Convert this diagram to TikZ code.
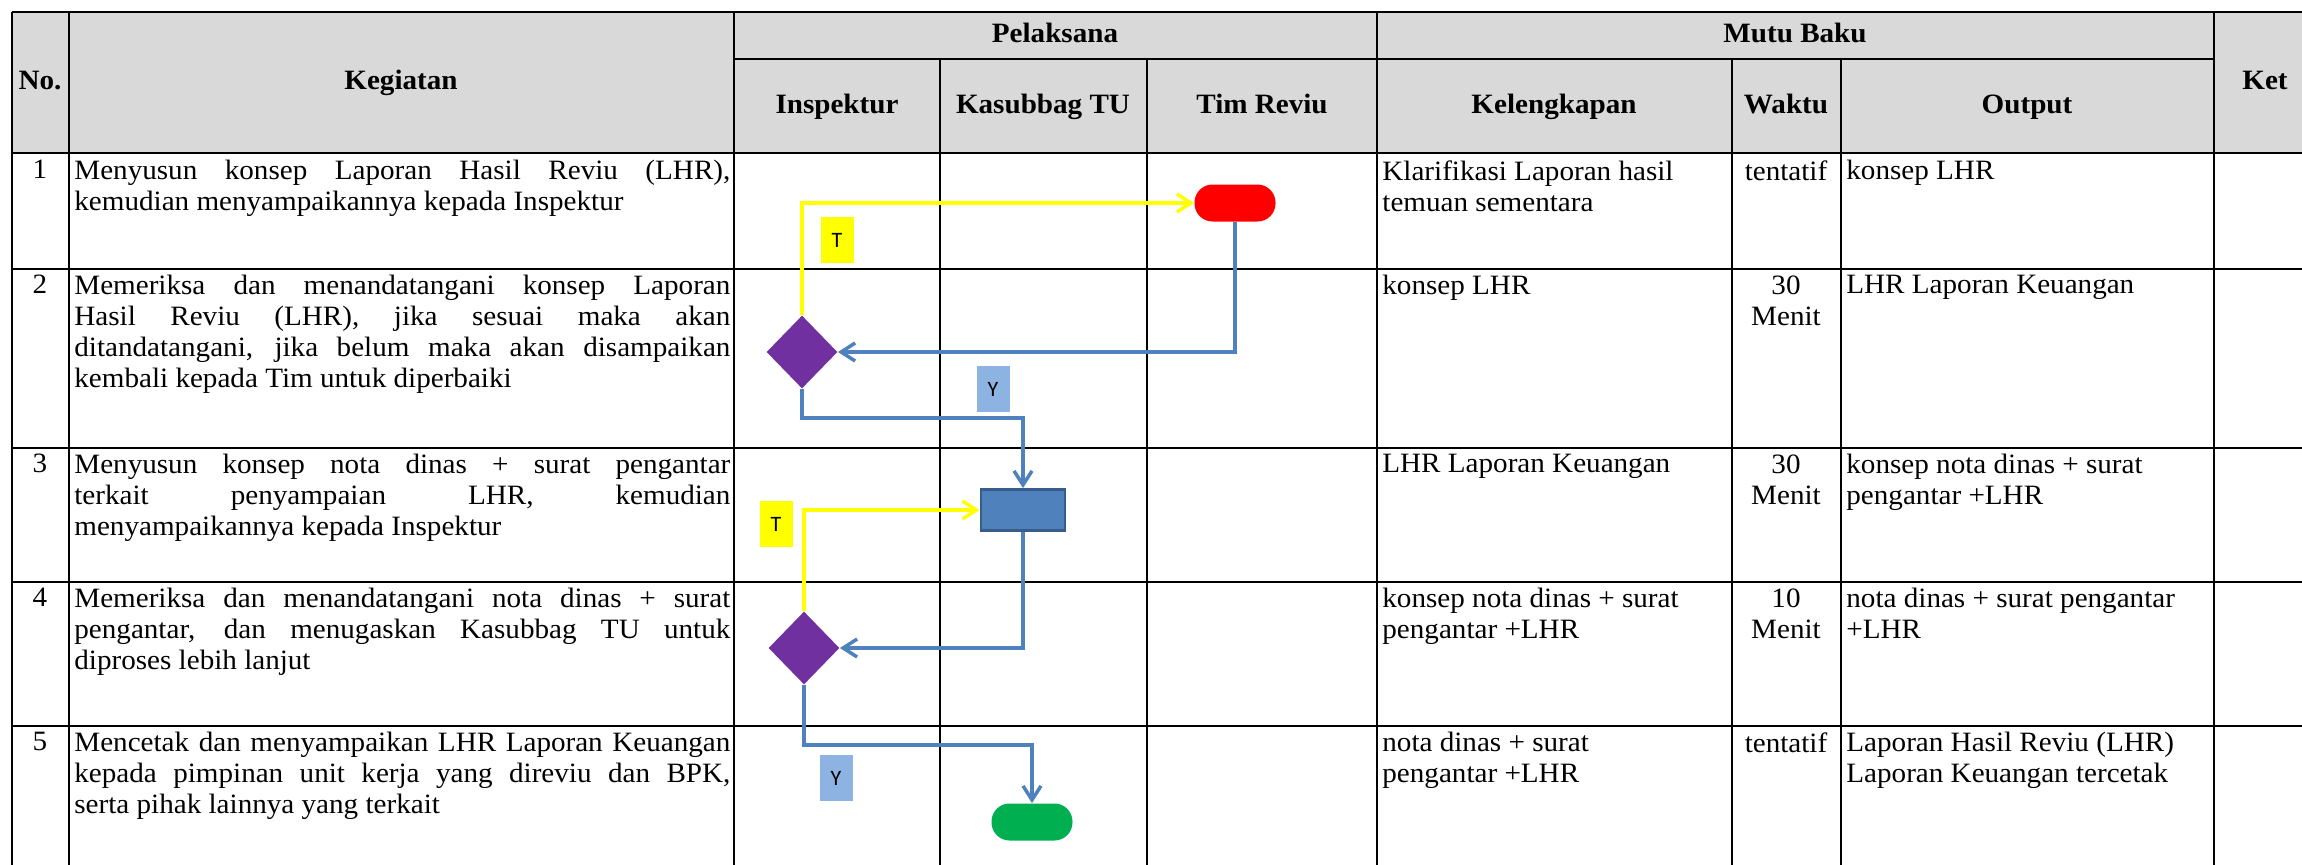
\documentclass[tikz,border=0pt]{standalone}
\usepackage{fontspec}
\setmainfont{Liberation Serif}[FakeStretch=1.04]
\newfontfamily\flagfont{Carlito}
\usetikzlibrary{shapes.geometric,arrows.meta}

\definecolor{hdrgrey}{HTML}{D9D9D9}
\definecolor{flowblue}{HTML}{4F81BD}
\definecolor{boxedge}{HTML}{385D8A}
\definecolor{decpurple}{HTML}{7030A0}
\definecolor{termred}{HTML}{FF0000}
\definecolor{termgreen}{HTML}{00B050}
\definecolor{flagyellow}{HTML}{FFFF00}
\definecolor{flagblue}{HTML}{8DB3E2}

\begin{document}
\begin{tikzpicture}[x=0.5pt,y=-0.5pt]
	\tikzstyle{tabline} = [line width=1.1pt]
	\tikzstyle{hdr} = [anchor=base,inner sep=0pt,font=\fontsize{14}{16}\selectfont\bfseries]
	\tikzstyle{cell} = [anchor=north west,inner sep=0pt,align=left,font=\fontsize{14}{15.5}\selectfont]
	\tikzstyle{act} = [cell,text width=328pt,align=justify]
	\tikzstyle{num} = [cell,anchor=north,align=center]
	\tikzstyle{term} = [rectangle,rounded corners=9pt,minimum width=40.5pt,minimum height=18.5pt,inner sep=0pt]
	\tikzstyle{decision} = [diamond,fill=decpurple,minimum width=35.5pt,minimum height=36.5pt,inner sep=0pt]
	\tikzstyle{process} = [rectangle,fill=flowblue,draw=boxedge,line width=1.4pt,minimum width=42pt,minimum height=20.5pt,inner sep=0pt]
	\tikzstyle{flag} = [inner sep=0pt,minimum width=16.5pt,minimum height=23pt,font=\flagfont\fontsize{11}{11}\selectfont]
	\tikzstyle{yline} = [draw=flowblue,line width=1.75pt,-{Straight Barb[length=7pt,width=9pt]}]
	\tikzstyle{tline} = [draw=flagyellow,line width=1.75pt,-{Straight Barb[length=7pt,width=9pt]}]

	\clip (0,0) rectangle (2302,864);

	% table
	\fill[hdrgrey] (12,12) rectangle (2310,153);
	\draw[tabline] (12,12) -- (2310,12);
	\draw[tabline] (734,59) -- (2214,59);
	\foreach \y in {153,269,448,582,726}
		\draw[tabline] (12,\y) -- (2310,\y);
	\foreach \x in {12,69,734,1377,2214}
		\draw[tabline] (\x,12) -- (\x,870);
	\foreach \x in {940,1147,1732,1841}
		\draw[tabline] (\x,59) -- (\x,870);

	% header
	\node[hdr] (hno) at (40,89) {No.};
	\node[hdr] (hkeg) at (401,89) {Kegiatan};
	\node[hdr] (hpel) at (1055,42) {Pelaksana};
	\node[hdr] (hins) at (837,113) {Inspektur};
	\node[hdr] (hkas) at (1043,113) {Kasubbag TU};
	\node[hdr] (htim) at (1262,113) {Tim Reviu};
	\node[hdr] (hmutu) at (1795,42) {Mutu Baku};
	\node[hdr] (hkel) at (1554,113) {Kelengkapan};
	\node[hdr] (hwak) at (1786,113) {Waktu};
	\node[hdr] (hout) at (2027,113) {Output};
	\node[hdr] (hket) at (2265,89) {Ket};

	% row 1
	\node[num] (n1) at (40,160) {1};
	\node[act] (a1) at (74,160) {Menyusun konsep Laporan Hasil Reviu (LHR),\linebreak kemudian menyampaikannya kepada Inspektur};
	\node[cell] (k1) at (1382,160) {Klarifikasi Laporan hasil\\temuan sementara};
	\node[num] (w1) at (1786,160) {tentatif};
	\node[cell] (o1) at (1846,160) {konsep LHR};

	% row 2
	\node[num] (n2) at (40,275) {2};
	\node[act] (a2) at (74,275) {Memeriksa dan menandatangani konsep Laporan\linebreak Hasil Reviu (LHR), jika sesuai maka akan\linebreak ditandatangani, jika belum maka akan disampaikan\linebreak kembali kepada Tim untuk diperbaiki};
	\node[cell] (k2) at (1382,275) {konsep LHR};
	\node[num] (w2) at (1786,275) {30\\Menit};
	\node[cell] (o2) at (1846,275) {LHR Laporan Keuangan};

	% row 3
	\node[num] (n3) at (40,454) {3};
	\node[act] (a3) at (74,454) {Menyusun konsep nota dinas + surat pengantar\linebreak terkait penyampaian LHR, kemudian\linebreak menyampaikannya kepada Inspektur};
	\node[cell] (k3) at (1382,454) {LHR Laporan Keuangan};
	\node[num] (w3) at (1786,454) {30\\Menit};
	\node[cell] (o3) at (1846,454) {konsep nota dinas + surat\\pengantar +LHR};

	% row 4
	\node[num] (n4) at (40,588) {4};
	\node[act] (a4) at (74,588) {Memeriksa dan menandatangani nota dinas + surat\linebreak pengantar, dan menugaskan Kasubbag TU untuk\linebreak diproses lebih lanjut};
	\node[cell] (k4) at (1382,588) {konsep nota dinas + surat\\pengantar +LHR};
	\node[num] (w4) at (1786,588) {10\\Menit};
	\node[cell] (o4) at (1846,588) {nota dinas + surat pengantar\\+LHR};

	% row 5
	\node[num] (n5) at (40,732) {5};
	\node[act] (a5) at (74,732) {Mencetak dan menyampaikan LHR Laporan Keuangan\linebreak kepada pimpinan unit kerja yang direviu dan BPK,\linebreak serta pihak lainnya yang terkait};
	\node[cell] (k5) at (1382,732) {nota dinas + surat\\pengantar +LHR};
	\node[num] (w5) at (1786,732) {tentatif};
	\node[cell] (o5) at (1846,732) {Laporan Hasil Reviu (LHR)\\Laporan Keuangan tercetak};

	% flow
	\node[term,fill=termred] (mulai) at (1235,203) {};
	\node[decision] (cek1) at (802,352) {};
	\node[process] (konsep) at (1023,510) {};
	\node[decision] (cek2) at (804,648) {};
	\node[term,fill=termgreen] (selesai) at (1032,822) {};

	\node[flag,fill=flagyellow] (t1) at (837,240) {T};
	\node[flag,fill=flagblue] (y1) at (993,389) {Y};
	\node[flag,fill=flagyellow] (t2) at (776,524) {T};
	\node[flag,fill=flagblue] (y2) at (836,778) {Y};

	\draw[tline] (cek1.north) |- (mulai.west);
	\draw[yline] (mulai.south) |- (cek1.east);
	\draw[yline] (cek1.south) -- ++(0,29) -| (konsep.north);
	\draw[tline] (cek2.north) |- (konsep.west);
	\draw[yline] (konsep.south) |- (cek2.east);
	\draw[yline] (cek2.south) -- ++(0,60) -| (selesai.north);
\end{tikzpicture}
\end{document}
